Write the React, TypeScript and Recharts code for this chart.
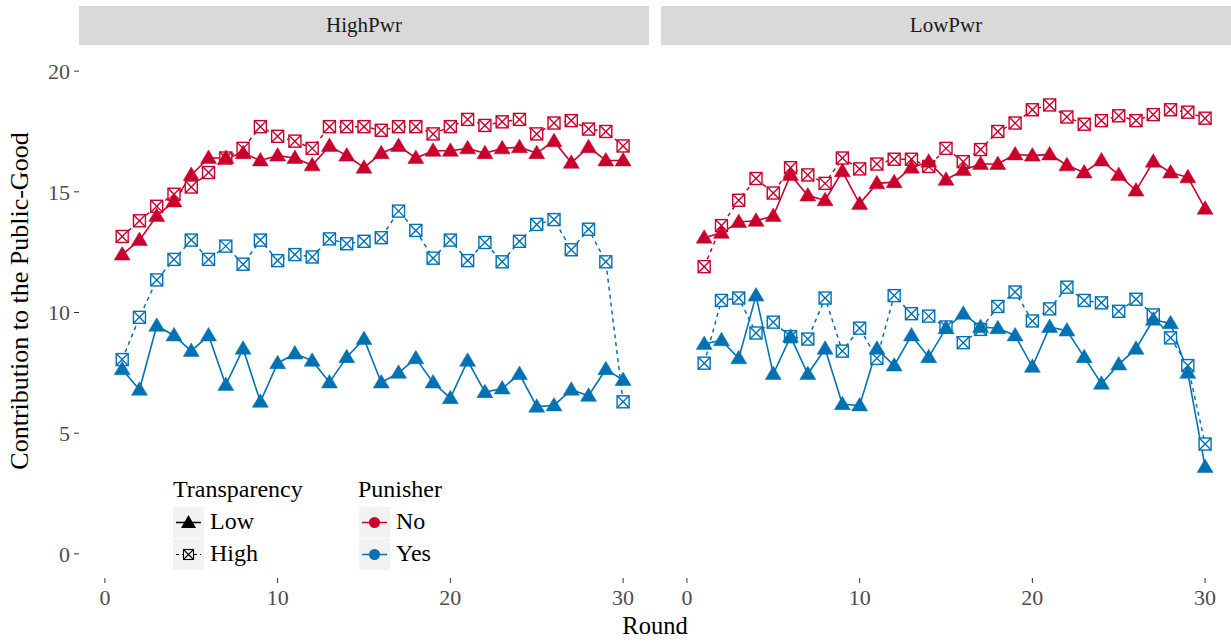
import React from 'react';
import { LineChart, Line, XAxis, YAxis } from 'recharts';

const rounds = [1, 2, 3, 4, 5, 6, 7, 8, 9, 10, 11, 12, 13, 14, 15, 16, 17, 18, 19, 20, 21, 22, 23, 24, 25, 26, 27, 28, 29, 30];

// HighPwr facet
const hpNoLow = [12.4, 13.0, 14.0, 14.6, 15.7, 16.4, 16.4, 16.6, 16.3, 16.5, 16.4, 16.1, 16.9, 16.5, 16.0, 16.6, 16.9, 16.4, 16.7, 16.7, 16.8, 16.6, 16.8, 16.85, 16.6, 17.1, 16.2, 16.85, 16.3, 16.3];
const hpNoHigh = [13.15, 13.8, 14.4, 14.9, 15.2, 15.8, 16.4, 16.8, 17.7, 17.3, 17.1, 16.8, 17.7, 17.7, 17.7, 17.55, 17.7, 17.7, 17.4, 17.7, 18.0, 17.75, 17.9, 18.0, 17.4, 17.85, 17.95, 17.6, 17.5, 16.9];
const hpYesLow = [7.65, 6.8, 9.45, 9.05, 8.4, 9.05, 7.0, 8.5, 6.3, 7.9, 8.3, 8.0, 7.1, 8.15, 8.9, 7.1, 7.5, 8.1, 7.1, 6.45, 8.0, 6.7, 6.85, 7.45, 6.1, 6.15, 6.8, 6.55, 7.65, 7.2];
const hpYesHigh = [8.05, 9.8, 11.35, 12.2, 13.0, 12.2, 12.75, 12.0, 13.0, 12.15, 12.4, 12.3, 13.05, 12.85, 12.95, 13.1, 14.2, 13.4, 12.25, 13.0, 12.15, 12.9, 12.1, 12.95, 13.65, 13.85, 12.6, 13.45, 12.1, 6.3];

// LowPwr facet
const lpNoLow = [13.1, 13.3, 13.75, 13.8, 14.0, 15.7, 14.85, 14.65, 15.85, 14.5, 15.35, 15.4, 16.0, 16.25, 15.5, 15.9, 16.15, 16.15, 16.55, 16.5, 16.55, 16.1, 15.8, 16.3, 15.7, 15.05, 16.25, 15.8, 15.6, 14.3];
const lpNoHigh = [11.9, 13.6, 14.65, 15.55, 14.95, 16.0, 15.7, 15.35, 16.4, 15.95, 16.15, 16.35, 16.35, 16.05, 16.8, 16.25, 16.75, 17.5, 17.85, 18.4, 18.6, 18.1, 17.8, 17.95, 18.15, 17.95, 18.2, 18.4, 18.3, 18.05];
const lpYesLow = [8.7, 8.85, 8.1, 10.7, 7.45, 9.0, 7.45, 8.5, 6.2, 6.15, 8.5, 7.8, 9.05, 8.15, 9.35, 9.95, 9.4, 9.35, 9.05, 7.75, 9.4, 9.25, 8.15, 7.05, 7.85, 8.5, 9.7, 9.55, 7.5, 3.6];
const lpYesHigh = [7.9, 10.5, 10.6, 9.15, 9.6, 9.0, 8.9, 10.6, 8.4, 9.35, 8.1, 10.7, 9.95, 9.85, 9.4, 8.75, 9.3, 10.25, 10.85, 9.65, 10.15, 11.05, 10.5, 10.4, 10.05, 10.55, 9.9, 8.95, 7.8, 4.55];

const xTicks = [0, 10, 20, 30];
const yTicks = [0, 5, 10, 15, 20];

const RED = '#c9002b';
const BLUE = '#0072b2';
const FONT = '"Liberation Serif", serif';

function build(noLow: number[], noHigh: number[], yesLow: number[], yesHigh: number[]) {
  return rounds.map((r, i) => ({
    round: r,
    noLow: noLow[i],
    noHigh: noHigh[i],
    yesLow: yesLow[i],
    yesHigh: yesHigh[i],
  }));
}

const highData = build(hpNoLow, hpNoHigh, hpYesLow, hpYesHigh);
const lowData = build(lpNoLow, lpNoHigh, lpYesLow, lpYesHigh);

function triangleDot(color: string) {
  return (p: any) => {
    const { cx, cy, index } = p;
    if (cx == null || cy == null) return <g key={index} />;
    const pts = `${cx},${cy - 8} ${cx - 8},${cy + 5.5} ${cx + 8},${cy + 5.5}`;
    return <polygon key={index} points={pts} fill={color} stroke={color} strokeWidth={0.5} />;
  };
}

function squareDot(color: string) {
  return (p: any) => {
    const { cx, cy, index } = p;
    if (cx == null || cy == null) return <g key={index} />;
    const h = 6;
    return (
      <g key={index} stroke={color} strokeWidth={1.4} fill="#fff">
        <rect x={cx - h} y={cy - h} width={h * 2} height={h * 2} />
        <line x1={cx - h} y1={cy - h} x2={cx + h} y2={cy + h} />
        <line x1={cx - h} y1={cy + h} x2={cx + h} y2={cy - h} />
      </g>
    );
  };
}

const tickStyle = { fontSize: 22, fill: '#4d4d4d', fontFamily: FONT };

function Panel({ data, showY, width, yWidth }: { data: any[]; showY: boolean; width: number; yWidth: number }) {
  return (
    <LineChart width={width} height={642} data={data} margin={{ top: 47, right: 0, left: 0, bottom: 24 }}>
      <XAxis
        dataKey="round"
        type="number"
        domain={[-1.5, 31.5]}
        ticks={xTicks}
        allowDataOverflow
        axisLine={false}
        tickLine={{ stroke: '#333' }}
        tickSize={5}
        tickMargin={6}
        height={40}
        tick={tickStyle}
      />
      <YAxis
        type="number"
        domain={[-1, 21]}
        ticks={yTicks}
        allowDataOverflow
        axisLine={false}
        tickLine={showY ? { stroke: '#333' } : false}
        tickSize={5}
        tickMargin={4}
        width={yWidth}
        tick={showY ? tickStyle : false}
      />
      <Line dataKey="noHigh" stroke={RED} strokeWidth={1.5} strokeDasharray="4 4" dot={squareDot(RED)} isAnimationActive={false} />
      <Line dataKey="yesHigh" stroke={BLUE} strokeWidth={1.5} strokeDasharray="4 4" dot={squareDot(BLUE)} isAnimationActive={false} />
      <Line dataKey="noLow" stroke={RED} strokeWidth={1.6} dot={triangleDot(RED)} isAnimationActive={false} />
      <Line dataKey="yesLow" stroke={BLUE} strokeWidth={1.6} dot={triangleDot(BLUE)} isAnimationActive={false} />
    </LineChart>
  );
}

const stripStyle: React.CSSProperties = {
  position: 'absolute',
  top: 6,
  height: 39,
  lineHeight: '39px',
  background: '#d9d9d9',
  color: '#1a1a1a',
  textAlign: 'center',
  fontSize: 21,
  fontFamily: FONT,
};

const legendText: React.CSSProperties = {
  position: 'absolute',
  fontSize: 24,
  fontFamily: FONT,
  color: '#000',
  whiteSpace: 'nowrap',
};

function KeyBox({ left, top, children }: { left: number; top: number; children: React.ReactNode }) {
  return (
    <svg width={31} height={31} style={{ position: 'absolute', left, top }}>
      <rect x={0} y={0} width={31} height={31} fill="#f2f2f2" />
      {children}
    </svg>
  );
}

function LegendBlock() {
  return (
    <div style={{ position: 'absolute', left: 0, top: 0 }}>
      <div style={{ ...legendText, left: 173, top: 476 }}>Transparency</div>
      <KeyBox left={173} top={507}>
        <line x1={3} y1={15.5} x2={28} y2={15.5} stroke="#000" strokeWidth={1.5} />
        <polygon points="15.5,8 8,21 23,21" fill="#000" />
      </KeyBox>
      <div style={{ ...legendText, left: 210, top: 508 }}>Low</div>
      <KeyBox left={173} top={539}>
        <line x1={3} y1={15.5} x2={28} y2={15.5} stroke="#000" strokeWidth={1.2} strokeDasharray="3 3" />
        <rect x={10.5} y={10.5} width={10} height={10} fill="#f2f2f2" stroke="#000" strokeWidth={1.1} />
        <line x1={10.5} y1={10.5} x2={20.5} y2={20.5} stroke="#000" strokeWidth={1.1} />
        <line x1={10.5} y1={20.5} x2={20.5} y2={10.5} stroke="#000" strokeWidth={1.1} />
      </KeyBox>
      <div style={{ ...legendText, left: 210, top: 540 }}>High</div>

      <div style={{ ...legendText, left: 358, top: 476 }}>Punisher</div>
      <KeyBox left={359} top={507}>
        <line x1={3} y1={15.5} x2={28} y2={15.5} stroke={RED} strokeWidth={1.5} />
        <circle cx={15.5} cy={15.5} r={5.5} fill={RED} />
      </KeyBox>
      <div style={{ ...legendText, left: 396, top: 508 }}>No</div>
      <KeyBox left={359} top={539}>
        <line x1={3} y1={15.5} x2={28} y2={15.5} stroke={BLUE} strokeWidth={1.5} />
        <circle cx={15.5} cy={15.5} r={5.5} fill={BLUE} />
      </KeyBox>
      <div style={{ ...legendText, left: 396, top: 540 }}>Yes</div>
    </div>
  );
}

export default function App() {
  return (
    <div style={{ position: 'absolute', left: 0, top: 0, width: 1231, height: 642, background: '#fff', overflow: 'hidden' }}>
      <div style={{ position: 'absolute', left: 0, top: 0 }}>
        <Panel data={highData} showY={true} width={649} yWidth={79} />
      </div>
      <div style={{ position: 'absolute', left: 661, top: 0 }}>
        <Panel data={lowData} showY={false} width={570} yWidth={0} />
      </div>
      <div style={{ ...stripStyle, left: 79, width: 570 }}>HighPwr</div>
      <div style={{ ...stripStyle, left: 661, width: 570 }}>LowPwr</div>
      <LegendBlock />
      <div style={{ position: 'absolute', left: 0, top: 612, width: 1231, paddingLeft: 79, boxSizing: 'border-box', textAlign: 'center', fontSize: 24.5, fontFamily: FONT, color: '#000' }}>
        Round
      </div>
      <div
        style={{
          position: 'absolute',
          left: 20,
          top: 301,
          transform: 'translate(-50%, -50%) rotate(-90deg)',
          fontSize: 26,
          fontFamily: FONT,
          color: '#000',
          whiteSpace: 'nowrap',
        }}
      >
        Contribution to the Public-Good
      </div>
    </div>
  );
}
